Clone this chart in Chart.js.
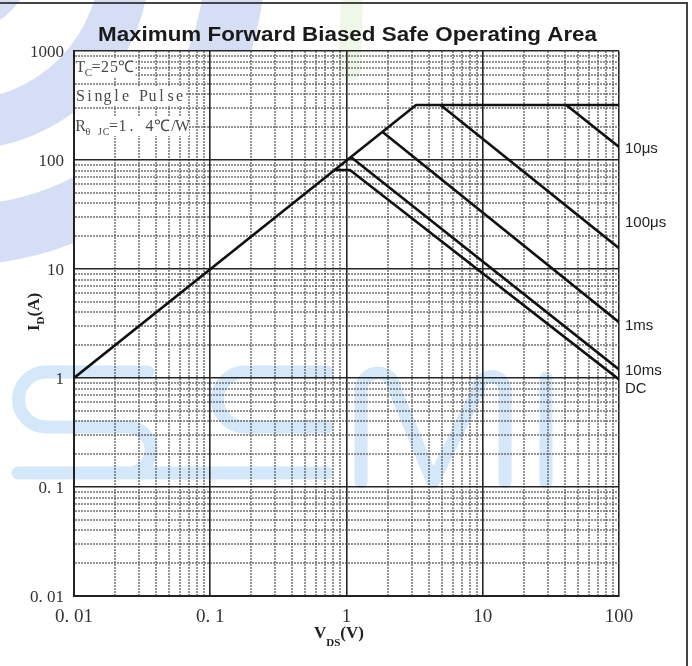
<!DOCTYPE html>
<html>
<head>
<meta charset="utf-8">
<script src="https://cdn.jsdelivr.net/npm/chart.js@4.4.1/dist/chart.umd.min.js"></script>
<style>
  html, body { margin: 0; padding: 0; background: #fff; }
  canvas { display: block; }
</style>
</head>
<body>
<canvas id="soa" width="692" height="666"></canvas>
<script>
// Corner points (V_DS in volts, I_D in amps) of each safe-operating-area boundary
const envelopeV = [0.01, 3.24, 100];
const envelopeI = [1, 320, 320];
const us10V = [41, 100];
const us10I = [320, 132];
const us100V = [4.9, 100];
const us100I = [320, 15.5];
const ms1V = [1.85, 100];
const ms1I = [180, 3.25];
const ms10V = [1.07, 100];
const ms10I = [107, 1.2];
const dcV = [0.81, 1.06, 100];
const dcI = [81, 81, 0.97];

const curveNames = ['10μs', '100μs', '1ms', '10ms', 'DC'];

// Decade tick values and their printed labels
const xDecades = [0.01, 0.1, 1, 10, 100];
const xTickLabels = ['0. 01', '0. 1', '1', '10', '100'];
const yDecades = [0.01, 0.1, 1, 10, 100, 1000];
const yTickLabels = ['0. 01', '0. 1', '1', '10', '100', '1000'];
const minorSteps = [1, 2, 3, 4, 5, 6, 7, 8, 9];

function pts(vs, is) { return vs.map((v, i) => ({ x: v, y: is[i] })); }
function isDecade(v) {
  const l = Math.log10(v);
  return Math.abs(l - Math.round(l)) < 1e-6;
}
function decadeLabel(v, decades, labels) {
  for (let i = 0; i < decades.length; i++) {
    if (Math.abs(Math.log10(v) - Math.log10(decades[i])) < 1e-6) return labels[i];
  }
  return '';
}
function logTicks(decades) {
  const out = [];
  for (let d = 0; d < decades.length; d++) {
    if (d === decades.length - 1) { out.push({ value: decades[d], major: true }); break; }
    minorSteps.forEach(s => out.push({ value: +(decades[d] * s).toPrecision(6), major: s === 1 }));
  }
  return out;
}

const gridColor = ctx => (ctx.tick && !isDecade(ctx.tick.value)) ? 'rgba(80,80,80,0.6)' : '#262626';
const gridWidth = ctx => (ctx.tick && !isDecade(ctx.tick.value)) ? 2 : 1.6;
const gridDash = ctx => (ctx.tick && !isDecade(ctx.tick.value)) ? [2, 1] : [];

const lineStyle = { showLine: true, borderColor: '#111', borderWidth: 2.6, pointRadius: 0, fill: false, tension: 0 };

// Faint company watermark underneath the chart
const watermark = {
  id: 'watermark',
  beforeDraw(chart) {
    const ctx = chart.ctx;
    const a = chart.chartArea;
    ctx.save();
    ctx.lineCap = 'round';
    ctx.lineJoin = 'round';

    // sweeping bands in the top-left margins
    ctx.save();
    ctx.beginPath();
    ctx.rect(0, 0, a.left, 300);
    ctx.rect(a.left, 0, 330 - a.left, a.top);
    ctx.clip();
    ctx.strokeStyle = 'rgba(196,208,242,0.7)';
    [[55, 34], [165, 50], [275, 60]].forEach(([r, w]) => {
      ctx.lineWidth = w;
      ctx.beginPath();
      ctx.arc(-40, -40, r, 0, Math.PI / 2);
      ctx.stroke();
    });
    ctx.restore();

    // faint green stroke near the top centre
    ctx.strokeStyle = 'rgba(214,236,200,0.4)';
    ctx.lineWidth = 22;
    ctx.beginPath();
    ctx.moveTo(352, -10);
    ctx.lineTo(350, 70);
    ctx.stroke();

    // SEMI lettering
    ctx.strokeStyle = 'rgb(213,232,250)';
    ctx.lineWidth = 13;
    ctx.beginPath();
    // S
    ctx.moveTo(148, 372);
    ctx.lineTo(46, 372);
    ctx.arc(46, 399.5, 27.5, -Math.PI / 2, Math.PI / 2, true);
    ctx.lineTo(128, 427);
    ctx.arc(128, 450, 23, -Math.PI / 2, Math.PI / 2, false);
    ctx.lineTo(18, 473);
    // shared baseline under S and E
    ctx.moveTo(128, 473);
    ctx.lineTo(327, 473);
    // E
    ctx.moveTo(327, 372);
    ctx.lineTo(245, 372);
    ctx.arc(245, 399.5, 27.5, -Math.PI / 2, Math.PI / 2, true);
    ctx.lineTo(327, 427);
    // M
    ctx.moveTo(361, 482);
    ctx.lineTo(361, 390);
    ctx.arc(378, 390, 17, Math.PI, 0, false);
    ctx.lineTo(433, 482);
    ctx.lineTo(478, 390);
    ctx.arc(491.5, 390, 13.5, Math.PI, 0, false);
    ctx.lineTo(505, 482);
    // I
    ctx.moveTo(546, 378);
    ctx.lineTo(546, 482);
    ctx.stroke();

    ctx.restore();
  }
};

// Page furniture: title, axis titles, curve labels, test conditions and frame
const decorations = {
  id: 'decorations',
  afterDraw(chart) {
    const ctx = chart.ctx;
    const area = chart.chartArea;
    ctx.save();

    // outer frame (top and right edges)
    ctx.strokeStyle = '#444';
    ctx.lineWidth = 2;
    ctx.beginPath();
    ctx.moveTo(0, 3); ctx.lineTo(687, 3); ctx.lineTo(687, 666);
    ctx.stroke();

    // title
    ctx.fillStyle = '#1a1a1a';
    ctx.font = 'bold 20px "Liberation Sans", Arial, sans-serif';
    ctx.textBaseline = 'alphabetic';
    ctx.textAlign = 'left';
    const title = 'Maximum Forward Biased Safe Operating Area';
    const tw = ctx.measureText(title).width;
    const targetW = 499;
    ctx.save();
    ctx.translate(347.5 - targetW / 2, 41);
    ctx.scale(targetW / tw, 1);
    ctx.fillText(title, 0, 0);
    ctx.restore();

    // curve labels at the right edge
    ctx.font = '15px "Liberation Sans", Arial, sans-serif';
    ctx.fillStyle = '#222';
    ctx.textBaseline = 'middle';
    const labelY = [149, 223, 326, 371, 389];
    curveNames.forEach((n, i) => ctx.fillText(n, area.right + 6, labelY[i]));

    // rich text helper: segments of {t, font, dy}
    function rich(segs, x, y, align) {
      let w = 0;
      segs.forEach(s => { ctx.font = s.font; s.w = ctx.measureText(s.t).width; w += s.w; });
      let cx = align === 'center' ? x - w / 2 : x;
      segs.forEach(s => { ctx.font = s.font; ctx.fillText(s.t, cx, y + (s.dy || 0)); cx += s.w; });
      return w;
    }

    ctx.textBaseline = 'alphabetic';
    ctx.fillStyle = '#222';
    const bold = 'bold 17px "Liberation Serif", "Times New Roman", serif';
    const boldSub = 'bold 11px "Liberation Serif", "Times New Roman", serif';

    // x axis title V_DS(V)
    rich([{ t: 'V', font: bold }, { t: 'DS', font: boldSub, dy: 8 }, { t: '(V)', font: bold }], 339, 638, 'center');

    // y axis title I_D(A)
    ctx.save();
    ctx.translate(39, 312);
    ctx.rotate(-Math.PI / 2);
    rich([{ t: 'I', font: bold }, { t: 'D', font: boldSub, dy: 5 }, { t: '(A)', font: bold }], 0, 0, 'center');
    ctx.restore();

    // test conditions in the top-left corner, set on a fixed character pitch
    const serif = '"Liberation Serif", "Times New Roman", serif';
    function pitched(segs, x, y, draw) {
      let cx = x;
      segs.forEach(s => {
        ctx.font = s.size + 'px ' + serif;
        for (const ch of s.t) {
          const adv = ch === '℃' ? 15 : s.pitch;
          const w = ctx.measureText(ch).width;
          if (draw) ctx.fillText(ch, cx + (adv - w) / 2, y + (s.dy || 0));
          cx += adv;
        }
      });
      return cx - x;
    }
    const rows = [
      { y: 72, segs: [{ t: 'T', size: 16, pitch: 9 }, { t: 'C', size: 11, pitch: 6.6, dy: 4 }, { t: '=25℃', size: 16, pitch: 9 }] },
      { y: 101, segs: [{ t: 'Single Pulse', size: 16, pitch: 9 }] },
      { y: 131, segs: [{ t: 'R', size: 16, pitch: 9 }, { t: 'θ JC', size: 10, pitch: 6, dy: 4 }, { t: '=1. 4℃/W', size: 16, pitch: 9 }] }
    ];
    rows.forEach(r => {
      const w = pitched(r.segs, 0, 0, false);
      ctx.fillStyle = '#fff';
      ctx.fillRect(area.left + 1, r.y - 14, w + 3, 19);
      ctx.fillStyle = '#4a4a4a';
      pitched(r.segs, area.left + 2, r.y, true);
    });

    ctx.restore();
  }
};

new Chart(document.getElementById('soa'), {
  type: 'scatter',
  data: {
    datasets: [
      Object.assign({ label: 'limit', data: pts(envelopeV, envelopeI) }, lineStyle),
      Object.assign({ label: curveNames[0], data: pts(us10V, us10I) }, lineStyle),
      Object.assign({ label: curveNames[1], data: pts(us100V, us100I) }, lineStyle),
      Object.assign({ label: curveNames[2], data: pts(ms1V, ms1I) }, lineStyle),
      Object.assign({ label: curveNames[3], data: pts(ms10V, ms10I) }, lineStyle),
      Object.assign({ label: curveNames[4], data: pts(dcV, dcI) }, lineStyle)
    ]
  },
  options: {
    responsive: false,
    animation: false,
    devicePixelRatio: 1,
    layout: { padding: { top: 51, right: 73, left: 0, bottom: 0 } },
    plugins: { legend: { display: false }, tooltip: { enabled: false }, title: { display: false } },
    scales: {
      x: {
        type: 'logarithmic', min: 0.01, max: 100, position: 'bottom',
        afterBuildTicks: s => { s.ticks = logTicks(xDecades); },
        afterFit: s => { s.height = 70; },
        grid: { color: gridColor, lineWidth: gridWidth, drawTicks: false },
        border: { display: true, color: '#222', width: 2, dash: gridDash },
        ticks: {
          autoSkip: false, maxRotation: 0, padding: 10, color: '#333',
          font: { family: '"Liberation Serif", "Times New Roman", serif', size: 19 },
          callback: v => decadeLabel(v, xDecades, xTickLabels)
        }
      },
      y: {
        type: 'logarithmic', min: 0.01, max: 1000, position: 'left',
        afterBuildTicks: s => { s.ticks = logTicks(yDecades); },
        afterFit: s => { s.width = 74; },
        grid: { color: gridColor, lineWidth: gridWidth, drawTicks: false },
        border: { display: true, color: '#222', width: 2, dash: gridDash },
        ticks: {
          autoSkip: false, padding: 10, color: '#333', labelOffset: 2,
          font: { family: '"Liberation Serif", "Times New Roman", serif', size: 17 },
          callback: v => decadeLabel(v, yDecades, yTickLabels)
        }
      }
    }
  },
  plugins: [watermark, decorations]
});
</script>
</body>
</html>
